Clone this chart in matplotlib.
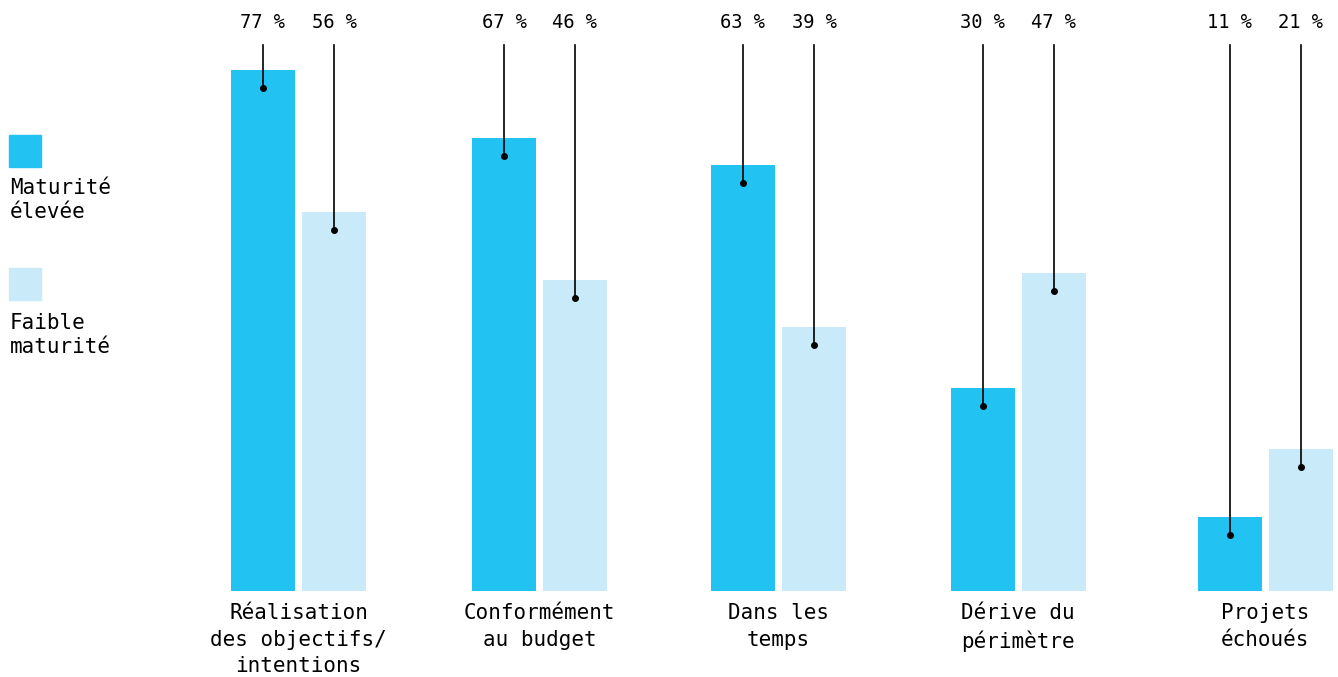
import matplotlib
matplotlib.use('Agg')
from matplotlib import pyplot as plt
from matplotlib.patches import Rectangle

# data
categories = ['Réalisation\ndes objectifs/\nintentions', 'Conformément\nau budget',
              'Dans les\ntemps', 'Dérive du\npérimètre', 'Projets\néchoués']
high = [77, 67, 63, 30, 11]
low = [56, 46, 39, 47, 21]
series_names = ['Maturité\nélevée', 'Faible\nmaturité']

DARK = '#22C3F2'
LIGHT = '#C8EAF9'
FONT = 'DejaVu Sans Mono'

W, H = 1338, 677
base_px = 591          # pixel row of the 0 % baseline
px_per = 6.766         # pixels per percentage point

def py(p):
    # pixel row from top -> data value
    return (base_px - p) / px_per

fig = plt.figure(figsize=(W / 100, H / 100), dpi=100)
ax = fig.add_axes([0, 0, 1, 1])
ax.set_xlim(0, W)
ax.set_ylim(py(H), py(0))
ax.axis('off')

centers = [298.5, 539.5, 778.5, 1018, 1265]
bw = 64
off = 35.5

xs_high = [c - off for c in centers]
xs_low = [c + off for c in centers]
ax.bar(xs_high, high, width=bw, color=DARK)
ax.bar(xs_low, low, width=bw, color=LIGHT)

# pointer lines, dots and labels on top
dot_drop = 18 / px_per
for xs, vals in [(xs_high, high), (xs_low, low)]:
    for x, v in zip(xs, vals):
        ax.plot([x, x], [py(45), v - dot_drop], color='black', lw=1.2)
        ax.plot(x, v - dot_drop, 'o', color='black', ms=4)
        ax.text(x, py(22), f'{v} %', ha='center', va='center',
                fontsize=13.5, family=FONT)

for c, lab in zip(centers, categories):
    ax.text(c, py(603), lab, ha='center', va='top', fontsize=15,
            family=FONT, linespacing=1.42)

# legend on the left
for top, col, name, ttop in [(135, DARK, series_names[0], 178),
                             (268, LIGHT, series_names[1], 313)]:
    ax.add_patch(Rectangle((9, py(top + 32)), 32, 32 / px_per, color=col))
    ax.text(10, py(ttop), name, ha='left', va='top', fontsize=15,
            family=FONT, linespacing=1.27)

plt.savefig('out.png', dpi=100)
